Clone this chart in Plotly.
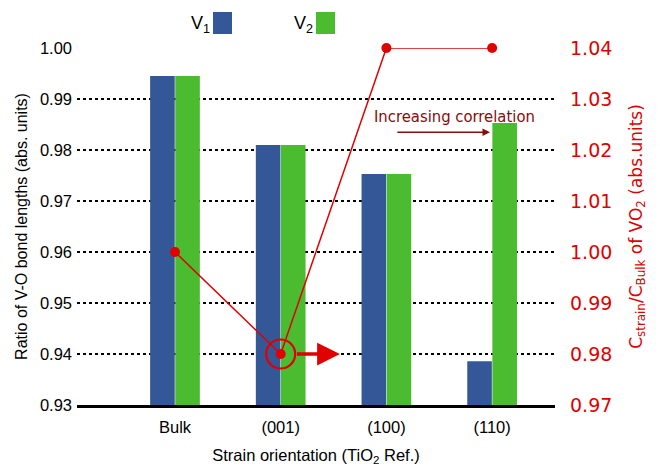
import plotly.graph_objects as go

categories = ["Bulk", "(001)", "(100)", "(110)"]
v1_ratio = [0.9945, 0.9810, 0.9753, 0.9386]
v2_ratio = [0.9945, 0.9810, 0.9753, 0.9853]
c_ratio = [1.000, 0.980, 1.040, 1.040]
left_ticks = [0.93, 0.94, 0.95, 0.96, 0.97, 0.98, 0.99, 1.00]
right_ticks = [0.97, 0.98, 0.99, 1.00, 1.01, 1.02, 1.03, 1.04]

xpos = list(range(len(categories)))
BLUE = "#345897"
GREEN = "#4bbb2f"
RED = "#e00000"
DARKRED = "#8b0a0a"

fig = go.Figure()
fig.add_trace(go.Bar(x=xpos, y=v1_ratio, marker=dict(color=BLUE, line=dict(width=0)),
                     name="V1", showlegend=False))
fig.add_trace(go.Bar(x=xpos, y=v2_ratio, marker=dict(color=GREEN, line=dict(width=0)),
                     name="V2", showlegend=False))
fig.add_trace(go.Scatter(x=xpos, y=c_ratio, yaxis="y2", mode="lines+markers",
                         line=dict(color=RED, width=1.5),
                         marker=dict(color=RED, size=10),
                         cliponaxis=False, showlegend=False))
# open circle highlighting (001)
fig.add_trace(go.Scatter(x=[xpos[1]], y=[c_ratio[1]], yaxis="y2", mode="markers",
                         marker=dict(symbol="circle-open", size=29, color=RED,
                                     line=dict(width=2.2, color=RED)),
                         cliponaxis=False, showlegend=False))

# page body has an 8px margin, so the figure is 8px smaller and shifted
fig.update_layout(
    width=652, height=459,
    margin=dict(l=69, r=105, t=40, b=62, autoexpand=False),
    paper_bgcolor="white", plot_bgcolor="white",
    barmode="group", bargap=0.525, bargroupgap=0.02,
    xaxis=dict(range=[-0.927, 3.595], tickmode="array", tickvals=xpos,
               ticktext=categories, showgrid=False, zeroline=False, automargin=False,
               showline=True, linecolor="black", linewidth=2.5, ticks="",
               ticklabelstandoff=5,
               tickfont=dict(family="Liberation Sans", size=16.5, color="black"),
               title=dict(text="Strain orientation (TiO<sub>2</sub> Ref.)",
                          font=dict(family="Liberation Sans", size=16.5, color="black"),
                          standoff=15)),
    yaxis=dict(range=[0.93, 1.00], tickmode="array", tickvals=left_ticks,
               ticktext=[f"{v:.2f}" for v in left_ticks], automargin=False,
               showgrid=True, gridcolor="black", gridwidth=2, griddash="dot",
               zeroline=False, showline=False, ticks="",
               tickfont=dict(family="Liberation Sans", size=16.5, color="black"),
               ticklabelstandoff=4,
               title=dict(text="Ratio of V-O bond lengths (abs. units)",
                          font=dict(family="Liberation Sans", size=16, color="black"),
                          standoff=8)),
    yaxis2=dict(range=[0.97, 1.04], overlaying="y", side="right", automargin=False,
                tickmode="array", tickvals=right_ticks,
                ticktext=[f"{v:.2f}" for v in right_ticks],
                showgrid=False, zeroline=False, showline=False, ticks="",
                ticklabelstandoff=14,
                tickfont=dict(family="DejaVu Sans", size=19, color=RED),
                title=dict(text="C<sub>strain</sub>/C<sub>Bulk</sub> of VO<sub>2</sub> (abs.units)",
                           font=dict(family="DejaVu Sans", size=17, color=RED),
                           standoff=18)),
)

# legend (text before swatch)
fig.add_annotation(xref="paper", yref="paper", x=(212 - 77) / 478, y=1 + (48 - 24) / 357,
                   text="V<sub>1</sub>", showarrow=False, xanchor="right", yanchor="middle",
                   font=dict(family="Liberation Sans", size=18, color="black"))
fig.add_annotation(xref="paper", yref="paper", x=(315 - 77) / 478, y=1 + (48 - 24) / 357,
                   text="V<sub>2</sub>", showarrow=False, xanchor="right", yanchor="middle",
                   font=dict(family="Liberation Sans", size=18, color="black"))
for x0, col in [(213, BLUE), (316, GREEN)]:
    fig.add_shape(type="rect", xref="paper", yref="paper",
                  x0=(x0 - 77) / 478, x1=(x0 + 19 - 77) / 478,
                  y0=1 + (48 - 34) / 357, y1=1 + (48 - 12) / 357,
                  fillcolor=col, line=dict(width=0))

# thick red arrow from the circled point
fig.add_annotation(xref="x", yref="y2", x=1.56, y=0.98, axref="x", ayref="y2",
                   ax=1.14, ay=0.98, showarrow=True, arrowhead=2, arrowsize=1.3,
                   arrowwidth=3.5, arrowcolor=RED, text="")

# "Increasing correlation"
fig.add_annotation(xref="x", yref="y", x=2.64, y=0.9866, text="Increasing correlation",
                   showarrow=False,
                   font=dict(family="DejaVu Sans Condensed, Liberation Sans Narrow, Liberation Sans",
                             size=16.5, color=DARKRED))
fig.add_annotation(xref="x", yref="y", x=2.98, y=0.9835, axref="x", ayref="y",
                   ax=2.09, ay=0.9835, showarrow=True, arrowhead=2, arrowsize=1,
                   arrowwidth=1.5, arrowcolor=DARKRED, text="")

fig.write_html("out.html")
